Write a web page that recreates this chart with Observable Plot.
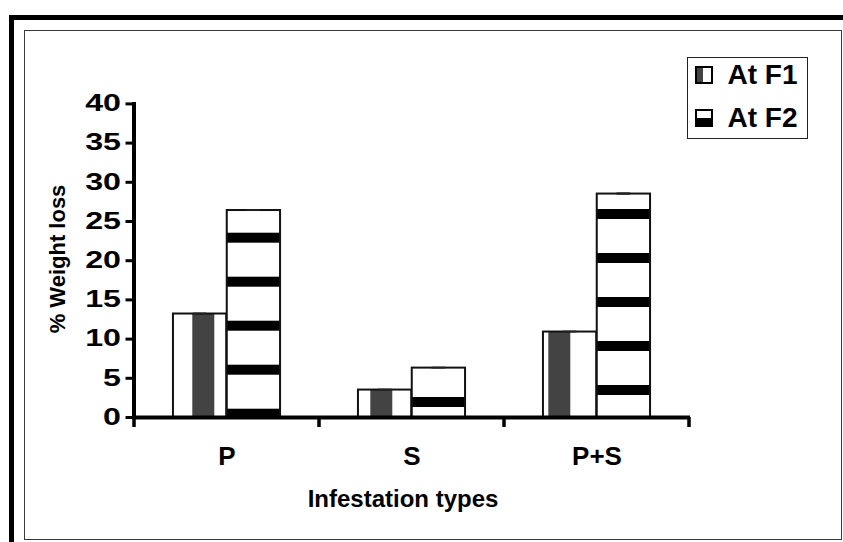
<!DOCTYPE html>
<html>
<head>
<meta charset="utf-8">
<script src="https://cdn.jsdelivr.net/npm/d3@7"></script>
<script src="https://cdn.jsdelivr.net/npm/@observablehq/plot@0.6"></script>
<style>
  body { margin: 0; background: #fff; }
  #wrap { position: relative; width: 843px; height: 542px; overflow: hidden; font-family: "Liberation Sans", Arial, sans-serif; }
  #outer { position: absolute; left: 9px; top: 15px; width: 900px; height: 600px; border: 5px solid #000; box-sizing: border-box; }
  #inner { position: absolute; left: 24px; top: 30px; width: 818px; height: 510px; border: 1.5px solid #3a3a3a; box-sizing: border-box; }
  #chart { position: absolute; left: 0; top: 0; }
  #xtitle { position: absolute; left: 0; width: 806px; top: 485px; text-align: center; font-weight: bold; font-size: 24px; }
  #ytitle { position: absolute; left: 58px; top: 259px; transform: translate(-50%, -50%) rotate(-90deg); white-space: nowrap; font-weight: bold; font-size: 22px; }
  #legend { position: absolute; left: 687px; top: 57px; width: 121px; height: 82px; border: 1.5px solid #222; box-sizing: border-box; background: #fff; }
  .item { position: absolute; left: 6.5px; display: flex; align-items: center; font-weight: bold; font-size: 28px; line-height: 28px; white-space: nowrap; }
  .item svg { margin-right: 15px; }
</style>
</head>
<body>
<div id="wrap">
  <div id="outer"></div>
  <div id="inner"></div>
  <div id="chart"></div>
  <div id="xtitle">Infestation types</div>
  <div id="ytitle">% Weight loss</div>
  <div id="legend"></div>
</div>
<script>
// ---- data ----
const categories = ["P", "S", "P+S"];
const seriesNames = ["At F1", "At F2"];
const f1Values = [13.2, 3.5, 10.9];
const f2Values = [26.4, 6.3, 28.5];
const f1Errors = [0.12, 0.12, 0.12];
const f2Errors = [0.12, 0.12, 0.15];
const yTicks = [0, 5, 10, 15, 20, 25, 30, 35, 40];

const f1 = categories.map((c, i) => ({cat: c, series: seriesNames[0], value: f1Values[i], err: f1Errors[i]}));
const f2 = categories.map((c, i) => ({cat: c, series: seriesNames[1], value: f2Values[i], err: f2Errors[i], pat: "url(#f2pat" + i + ")"}));

// ---- layout ----
const W = 843, H = 542, mL = 133.5, mR = 153, mT = 103.4, mB = 125;
const step = (W - mL - mR) / categories.length;
const outer = 0.21 * step;
const bw = (step - 2 * outer) / 2;
const capW = 14;
const Y_STRETCH = 1.4;

const plot = Plot.plot({
  width: W, height: H,
  marginLeft: mL, marginRight: mR, marginTop: mT, marginBottom: mB,
  x: {domain: categories, padding: 0},
  y: {domain: [0, 40]},
  color: {type: "identity"},
  style: {background: "transparent", fontFamily: "'Liberation Sans', Arial, sans-serif", color: "#000"},
  marks: [
    Plot.barY(f1, {x: "cat", y: "value", fill: () => "url(#f1pat)", stroke: "#111", strokeWidth: 2,
      insetLeft: outer, insetRight: outer + bw}),
    Plot.barY(f2, {x: "cat", y: "value", fill: "pat", stroke: "#111", strokeWidth: 2,
      insetLeft: outer + bw, insetRight: outer}),
    Plot.barY(f1, {x: "cat", y1: d => d.value - d.err, y2: d => d.value + d.err, fill: () => "#222",
      insetLeft: outer + bw / 2 - capW / 2, insetRight: step - (outer + bw / 2 + capW / 2)}),
    Plot.barY(f2, {x: "cat", y1: d => d.value - d.err, y2: d => d.value + d.err, fill: () => "#222",
      insetLeft: outer + 1.5 * bw - capW / 2, insetRight: step - (outer + 1.5 * bw + capW / 2)}),
    Plot.ruleY([0], {stroke: "#000", strokeWidth: 4}),
    Plot.frame({anchor: "left", stroke: "#000", strokeWidth: 4}),
    Plot.axisY({ticks: yTicks, tickSize: 8, tickPadding: 5, strokeWidth: 3, label: null,
      fontSize: 23, fontWeight: "bold"}),
    Plot.axisX({tickSize: 0, tickPadding: 29, label: null, fontSize: 26, fontWeight: "bold"})
  ]
});
document.getElementById("chart").appendChild(plot);

// ---- fill patterns ----
const svg = d3.select(plot);
const defs = svg.insert("defs", ":first-child");
const p1 = defs.append("pattern").attr("id", "f1pat").attr("patternUnits", "userSpaceOnUse")
  .attr("x", 14.3).attr("y", 0).attr("width", 89).attr("height", 10);
p1.append("rect").attr("width", 89).attr("height", 10).attr("fill", "#fff");
p1.append("rect").attr("width", 22).attr("height", 10).attr("fill", "#434343");
const f2Offsets = [12.7, 1, 33];
f2Offsets.forEach((o, i) => {
  const p = defs.append("pattern").attr("id", "f2pat" + i).attr("patternUnits", "userSpaceOnUse")
    .attr("x", 0).attr("y", o).attr("width", 10).attr("height", 44);
  p.append("rect").attr("width", 10).attr("height", 44).attr("fill", "#fff");
  p.append("rect").attr("width", 10).attr("height", 10).attr("fill", "#000");
});

// ---- category boundary ticks on the x axis ----
const xs = plot.scale("x");
const y0 = plot.scale("y").apply(0);
const bounds = categories.map(c => xs.apply(c)).concat([xs.apply(categories[categories.length - 1]) + xs.bandwidth]);
svg.append("g").selectAll("line").data(bounds).join("line")
  .attr("x1", d => d).attr("x2", d => d).attr("y1", y0).attr("y2", y0 + 10)
  .attr("stroke", "#000").attr("stroke-width", 3.5);

// widen y tick labels like the original
svg.selectAll('g[aria-label="y-axis tick label"] text').each(function () {
  const t = this.getAttribute("transform") || "";
  this.setAttribute("transform", `${t} scale(${Y_STRETCH},1)`);
});

// ---- legend ----
const legend = d3.select("#legend");
const rows = [
  {name: seriesNames[0], top: 3},
  {name: seriesNames[1], top: 46}
];
rows.forEach((r, i) => {
  const item = legend.append("div").attr("class", "item").style("top", r.top + "px");
  const s = item.append("svg").attr("width", 18).attr("height", 18);
  s.append("rect").attr("x", 1).attr("y", 1).attr("width", 16).attr("height", 16).attr("fill", "#fff").attr("stroke", "#000").attr("stroke-width", 2);
  if (i === 0) s.append("rect").attr("x", 2).attr("y", 2).attr("width", 6).attr("height", 14).attr("fill", "#434343");
  else s.append("rect").attr("x", 1).attr("y", 9).attr("width", 16).attr("height", 8).attr("fill", "#000");
  item.append("span").text(r.name);
});
</script>
</body>
</html>
